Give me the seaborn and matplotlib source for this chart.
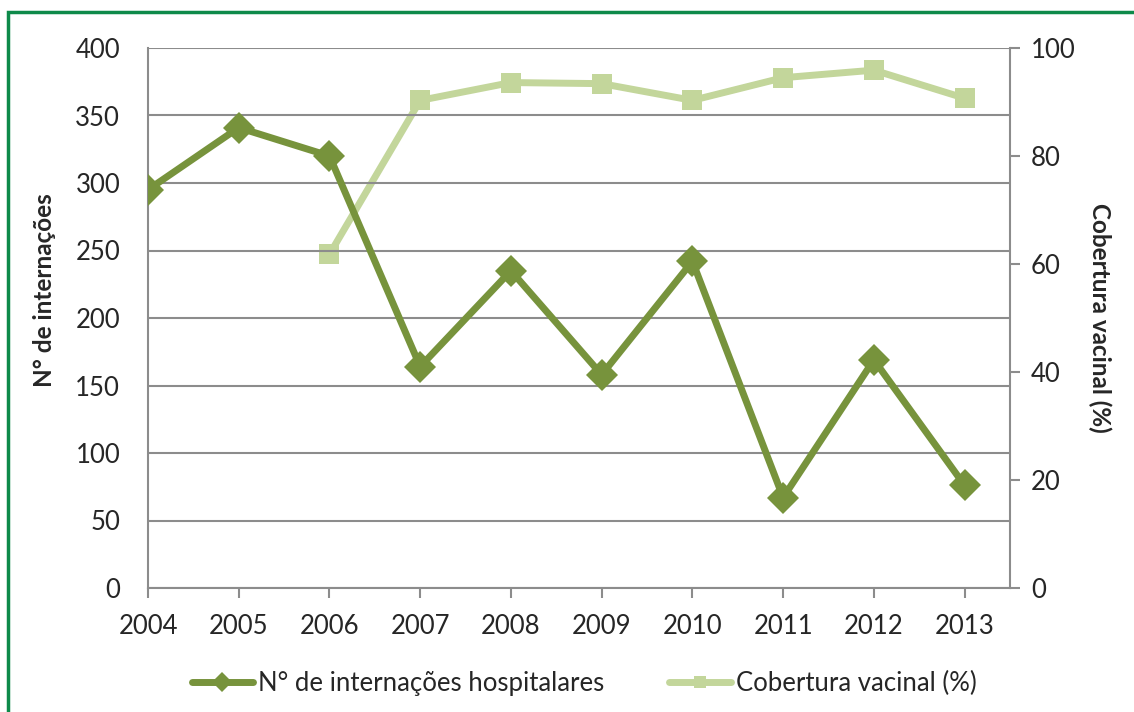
import numpy as np
import pandas as pd
import matplotlib
matplotlib.use("Agg")
import matplotlib.pyplot as plt
import seaborn as sns
from matplotlib.patches import Rectangle

years = [2004, 2005, 2006, 2007, 2008, 2009, 2010, 2011, 2012, 2013]
internacoes = [295, 341, 320, 164, 235, 158, 242, 67, 169, 76]
cobertura_years = [2006, 2007, 2008, 2009, 2010, 2011, 2012, 2013]
cobertura = [61.8, 90.3, 93.6, 93.4, 90.3, 94.5, 95.9, 90.7]

dark = "#77933C"
light = "#C3D69B"
grid_c = "#8C8C8C"

sns.set_style("white")
plt.rcParams["font.family"] = ["Lato", "DejaVu Sans"]

df1 = pd.DataFrame({"ano": [years.index(y) for y in years], "n": internacoes})
df2 = pd.DataFrame({"ano": [years.index(y) for y in cobertura_years], "c": cobertura})

fig = plt.figure(figsize=(11.34, 7.12), dpi=100)
ax = fig.add_axes([148/1134, 1 - 588/712, (1010 - 148)/1134, (588 - 48)/712])
ax2 = ax.twinx()

sns.lineplot(data=df1, x="ano", y="n", ax=ax, color=dark, lw=5, marker="D",
             markersize=16, markeredgewidth=0, label="N° de internações hospitalares",
             legend=False, zorder=3)
sns.lineplot(data=df2, x="ano", y="c", ax=ax2, color=light, lw=5, marker="s",
             markersize=14, markeredgewidth=0, label="Cobertura vacinal (%)",
             legend=False, zorder=3)

ax.set_zorder(ax2.get_zorder() + 1)
ax.patch.set_visible(False)

ax.set_xlim(0, 9.5)
ax.set_ylim(0, 400)
ax.set_yticks(range(0, 401, 50))
ax2.set_ylim(0, 100)
ax2.set_yticks(range(0, 101, 20))
ax.set_xticks(range(len(years)))
ax.set_xticklabels([str(y) for y in years])

ax.grid(axis="y", color=grid_c, lw=1.5)
ax.grid(axis="x", visible=False)
for a in (ax, ax2):
    for s in a.spines.values():
        s.set_visible(False)
ax.spines["left"].set_visible(True)
ax.spines["left"].set_color(grid_c)
ax.spines["left"].set_linewidth(1.5)
ax.spines["bottom"].set_visible(True)
ax.spines["bottom"].set_color(grid_c)
ax.spines["bottom"].set_linewidth(1.5)
ax2.spines["right"].set_visible(True)
ax2.spines["right"].set_color(grid_c)
ax2.spines["right"].set_linewidth(1.5)

fs = 18.5
ax.tick_params(axis="x", length=7, width=1.5, color=grid_c, labelsize=fs, pad=12, bottom=True)
ax.tick_params(axis="y", length=0, labelsize=fs, pad=20, left=False)
ax2.tick_params(axis="y", length=7, width=1.5, color=grid_c, labelsize=fs, pad=8, right=True)

ax.set_xlabel("")
ax.set_ylabel("N° de internações", fontsize=17.5, fontweight="bold")
ax.yaxis.set_label_coords(-0.107, 0.552)
ax2.set_ylabel("Cobertura vacinal (%)", fontsize=17.5, fontweight="bold",
               rotation=-90, labelpad=26)

h1, l1 = ax.get_legend_handles_labels()
h2, l2 = ax2.get_legend_handles_labels()
fig.legend(h1 + h2, l1 + l2, loc="center", bbox_to_anchor=(0.515, 1 - 683/712),
           ncol=2, frameon=False, fontsize=fs, handlelength=2.4, handletextpad=0.2,
           columnspacing=2.5, markerscale=0.65)

fig.patches.append(Rectangle((8/1134, -0.1), 1.2, 1 - 12/712 + 0.1,
                             transform=fig.transFigure, fill=False,
                             edgecolor="#0E8A4A", lw=2.5))

fig.savefig("out.png", dpi=100)
